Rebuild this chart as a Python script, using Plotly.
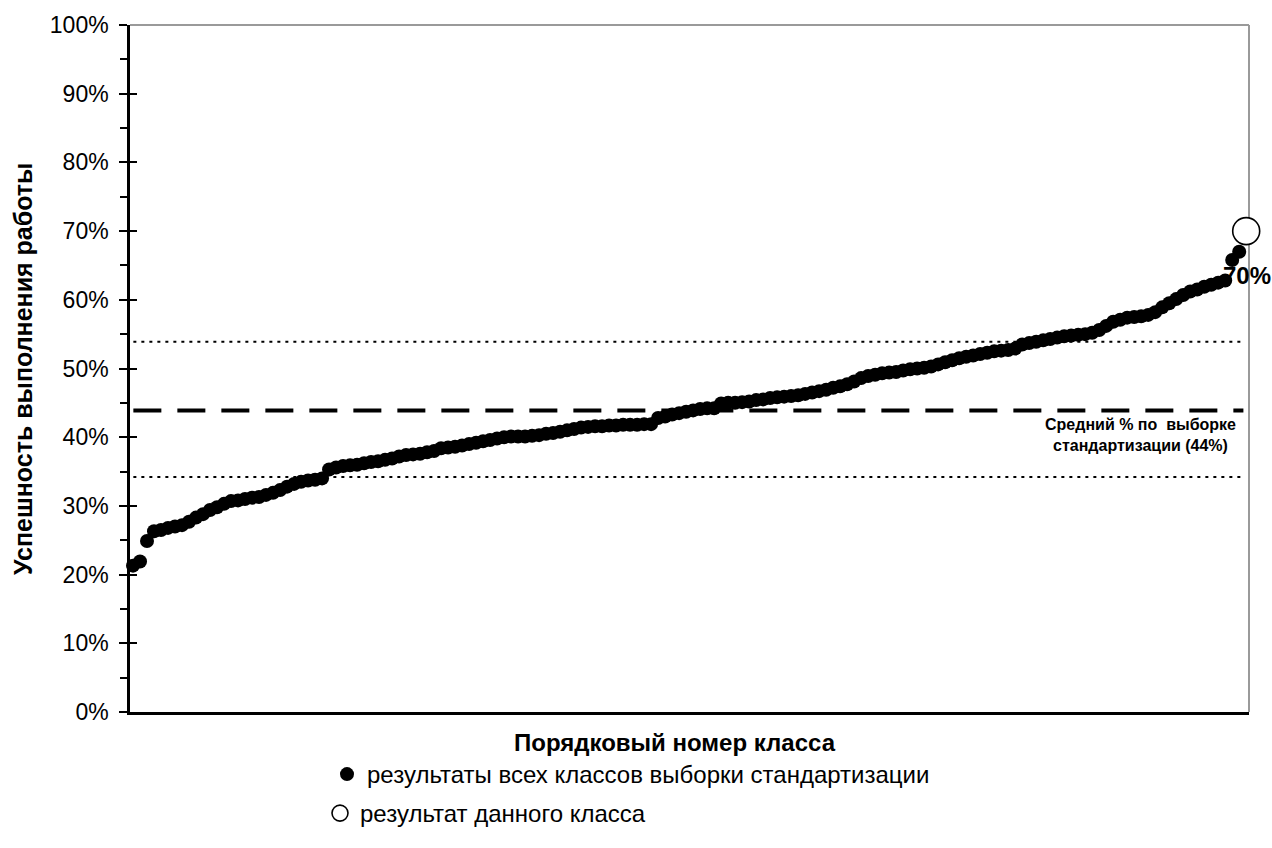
import plotly.graph_objects as go

# ---- data ----
class_results = [
    21.3, 21.9, 24.9, 26.3, 26.5, 26.8, 27.0, 27.2, 27.7, 28.3,
    28.8, 29.4, 29.8, 30.3, 30.7, 30.8, 31.0, 31.2, 31.3, 31.6,
    31.9, 32.3, 32.8, 33.2, 33.5, 33.7, 33.8, 34.0, 35.3, 35.6,
    35.8, 35.9, 36.0, 36.2, 36.4, 36.5, 36.7, 36.9, 37.2, 37.4,
    37.5, 37.6, 37.8, 38.0, 38.4, 38.5, 38.6, 38.8, 39.0, 39.2,
    39.4, 39.6, 39.8, 40.0, 40.1, 40.1, 40.1, 40.2, 40.3, 40.5,
    40.6, 40.8, 41.0, 41.2, 41.4, 41.5, 41.6, 41.6, 41.7, 41.7,
    41.8, 41.8, 41.8, 41.9, 41.9, 42.8, 43.0, 43.3, 43.5, 43.7,
    43.9, 44.1, 44.2, 44.2, 44.9, 45.0, 45.0, 45.1, 45.2, 45.4,
    45.5, 45.7, 45.8, 45.9, 46.0, 46.1, 46.3, 46.5, 46.7, 46.9,
    47.2, 47.4, 47.7, 48.1, 48.6, 48.9, 49.1, 49.3, 49.4, 49.5,
    49.7, 49.9, 50.0, 50.1, 50.3, 50.6, 50.9, 51.2, 51.5, 51.7,
    51.9, 52.1, 52.3, 52.5, 52.6, 52.7, 52.9, 53.5, 53.7, 53.9,
    54.1, 54.3, 54.5, 54.7, 54.8, 54.9, 55.0, 55.2, 55.6, 56.2,
    56.8, 57.1, 57.4, 57.5, 57.6, 57.8, 58.2, 58.9, 59.5, 60.1,
    60.7, 61.2, 61.5, 61.9, 62.2, 62.5, 62.8, 65.8, 67.0,
]
class_numbers = list(range(1, len(class_results) + 1))

this_class_number = [160]
this_class_result = [70]
this_class_label = ["70%"]

mean_value = 43.9
upper_band = 53.9
lower_band = 34.2
mean_label = "Средний % по  выборке<br>стандартизации (44%)"

y_tick_values = [0, 10, 20, 30, 40, 50, 60, 70, 80, 90, 100]
y_tick_labels = [f"{v}%" for v in y_tick_values]

legend_all = "результаты всех классов выборки стандартизации"
legend_this = "результат данного класса"
x_title = "Порядковый номер класса"
y_title = "Успешность выполнения работы"

FONT = "Arial, Liberation Sans, sans-serif"
W, H = 1272, 848
L, R, T, B = 130, 23, 25, 136
PW = W - L - R   # 1119
PH = H - T - B   # 687

fig = go.Figure()

fig.add_trace(go.Scatter(
    x=class_numbers, y=class_results, mode="markers",
    marker=dict(color="black", size=14, line=dict(width=0)),
    name=legend_all, legend="legend", cliponaxis=False,
))
fig.add_trace(go.Scatter(
    x=this_class_number, y=this_class_result, mode="markers",
    marker=dict(color="white", size=27, line=dict(color="black", width=1.6)),
    name=legend_this, legend="legend2", cliponaxis=False,
))

# reference lines
for yv, w, dash in [(mean_value, 4, "28px,16px"),
                    (upper_band, 2, "3px,5px"),
                    (lower_band, 2, "3px,5px")]:
    fig.add_shape(type="line", xref="paper", yref="y", x0=0.003, x1=0.995,
                  y0=yv, y1=yv, line=dict(color="black", width=w, dash=dash),
                  layer="above")

# gray frame (top & right)
fig.add_shape(type="line", xref="paper", yref="paper", x0=0, x1=1, y0=1, y1=1,
              line=dict(color="#9a9a9a", width=2), layer="below")
fig.add_shape(type="line", xref="paper", yref="paper", x0=1, x1=1, y0=0, y1=1,
              line=dict(color="#9a9a9a", width=2), layer="below")

fig.add_annotation(x=this_class_number[0], y=this_class_result[0],
                   text=f"<b>{this_class_label[0]}</b>", showarrow=False,
                   xref="x", yref="y", xanchor="center", yanchor="middle",
                   xshift=1, yshift=-44,
                   font=dict(family=FONT, size=24, color="black"))
fig.add_annotation(x=(1140 - L) / PW, y=(T + PH - 435) / PH, xref="paper", yref="paper",
                   text=f"<b>{mean_label}</b>", showarrow=False, align="center",
                   xanchor="center", yanchor="middle",
                   font=dict(family=FONT, size=16, color="black"))

# axis titles
fig.add_annotation(x=(675 - L) / PW, y=(T + PH - 742) / PH, xref="paper", yref="paper",
                   text=f"<b>{x_title}</b>", showarrow=False,
                   xanchor="center", yanchor="middle",
                   font=dict(family=FONT, size=24, color="black"))
fig.add_annotation(x=(23 - L) / PW, y=(T + PH - 369) / PH, xref="paper", yref="paper",
                   xanchor="center", yanchor="middle",
                   text=f"<b>{y_title}</b>", showarrow=False, textangle=-90,
                   font=dict(family=FONT, size=25, color="black"))

fig.update_layout(
    template="none",
    width=W, height=H,
    margin=dict(l=L, r=R, t=T, b=B, pad=0, autoexpand=False),
    paper_bgcolor="white", plot_bgcolor="white",
    font=dict(family=FONT, color="black"),
    xaxis=dict(range=[0.57, 160.4], showgrid=False, zeroline=False,
               showticklabels=False, ticks="", showline=True, automargin=False,
               linecolor="black", linewidth=2.5),
    yaxis=dict(range=[0, 100], tickvals=y_tick_values, ticktext=y_tick_labels,
               showgrid=False, zeroline=False, showline=True, automargin=False,
               linecolor="black", linewidth=2.5, ticks="outside", ticklen=8,
               tickwidth=2, tickcolor="black", ticklabelstandoff=6,
               tickfont=dict(family=FONT, size=23, color="black"),
               minor=dict(dtick=5, tick0=0, ticks="outside", ticklen=7,
                          tickwidth=2, tickcolor="black", showgrid=False)),
    yaxis2=dict(range=[0, 100], overlaying="y", side="left", tickvals=y_tick_values,
                showticklabels=False, showgrid=False, zeroline=False, automargin=False,
                showline=False, ticks="inside", ticklen=7, tickwidth=2,
                tickcolor="black"),
    legend=dict(xref="container", yref="container",
                x=327 / W, y=1 - 752 / H, xanchor="left", yanchor="top",
                bgcolor="rgba(0,0,0,0)", borderwidth=0,
                font=dict(family=FONT, size=24, color="black")),
    legend2=dict(xref="container", yref="container",
                 x=320 / W, y=1 - 791 / H, xanchor="left", yanchor="top",
                 bgcolor="rgba(0,0,0,0)", borderwidth=0,
                 font=dict(family=FONT, size=24, color="black")),
    showlegend=True,
)

# invisible trace so yaxis2 renders its ticks
fig.add_trace(go.Scatter(x=[None], y=[None], yaxis="y2", showlegend=False,
                         hoverinfo="skip"))

fig.write_html(
    "out.html",
    config={"displayModeBar": False},
    post_script="document.body.style.margin='0';document.body.style.overflow='hidden';",
)
